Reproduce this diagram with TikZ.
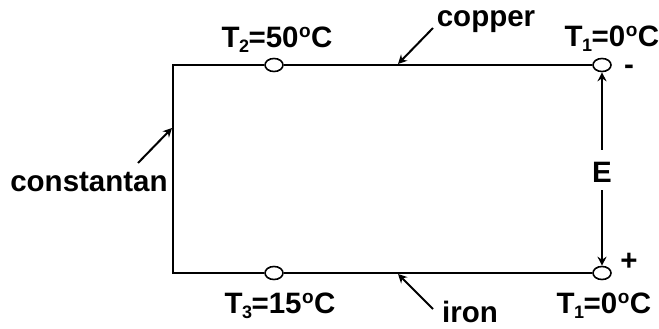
\documentclass[tikz,border=0pt]{standalone}
\usepackage{fontspec}
\setmainfont{Liberation Sans}
\usetikzlibrary{arrows.meta,shapes.geometric}
\newcommand\lowix[1]{\kern-0.5pt\raisebox{-5pt}{\fontsize{18}{18}\selectfont #1}\kern-0.5pt}
\newcommand\degsym{\kern0.5pt\raisebox{10pt}{\fontsize{19}{19}\selectfont o}\kern0.5pt}
\begin{document}
\begin{tikzpicture}[x=1pt,y=-1pt,
  wire/.style={line width=2pt},
  junc/.style={ellipse,draw,fill=white,line width=1.6pt,minimum width=18pt,minimum height=13pt,inner sep=0pt},
  lbl/.style={font=\fontsize{29.5}{33}\selectfont\bfseries,inner sep=0pt,anchor=base},
  ptr/.style={line width=2pt,-{Stealth[length=9pt,width=9pt,inset=3pt]}}]
\useasboundingbox (0,0) rectangle (659,329);
% wires
\coordinate (tl) at (173,65);
\coordinate (bl) at (173,273);
\node[junc] (j2) at (274,65) {};
\node[junc] (j1t) at (602,65) {};
\node[junc] (j3) at (274,273) {};
\node[junc] (j1b) at (602,273) {};
\draw[wire] (j2.east) -- (j1t.west);
\draw[wire] (j2.west) -- (tl) -- (bl) -- (j3.west);
\draw[wire] (j3.east) -- (j1b.west);
% labels
\node[lbl] (t2) at (277,48) {T\lowix{2}=50\degsym C};
\node[lbl] (cu) at (486,27) {copper};
\node[lbl] (t1t) at (612,47) {T\lowix{1}=0\degsym C};
\node[lbl,anchor=center] (minus) at (629,70) {-};
\node[lbl,anchor=center] (E) at (602,172) {E};
\node[lbl,anchor=center] (plus) at (629,262) {+};
\node[lbl] (t3) at (280,313) {T\lowix{3}=15\degsym C};
\node[lbl] (fe) at (470,322) {iron};
\node[lbl] (t1b) at (604,313) {T\lowix{1}=0\degsym C};
\node[lbl] (con) at (89,191) {constantan};
% pointers
\coordinate (cuTail) at (433,28);
\coordinate (cuTip) at (398,64);
\coordinate (feTail) at (433,309);
\coordinate (feTip) at (398,274);
\coordinate (conTail) at (138,163);
\coordinate (conTip) at (172,128);
\draw[ptr] (cuTail) -- (cuTip);
\draw[ptr] (feTail) -- (feTip);
\draw[ptr] (conTail) -- (conTip);
\draw[ptr] ([yshift=12pt]E.north) -- (j1t.south);
\draw[ptr] ([yshift=-8pt]E.south) -- (j1b.north);
\end{tikzpicture}
\end{document}
